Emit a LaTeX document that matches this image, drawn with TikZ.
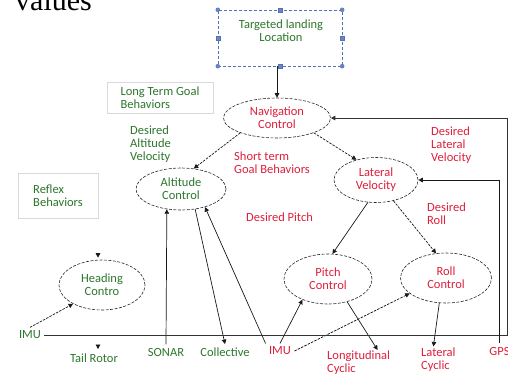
\documentclass[tikz,border=0pt]{standalone}
\usepackage{fontspec}
\setmainfont{Carlito}
\newfontfamily\valsfont{Liberation Serif}
\usetikzlibrary{positioning,arrows.meta,shapes.geometric,calc}
\definecolor{txtred}{RGB}{222,30,58}
\definecolor{txtgreen}{RGB}{44,118,44}
\definecolor{selblue}{RGB}{84,112,182}
\tikzset{
  oval/.style={ellipse,draw=black!85,dash pattern=on 3pt off 1.5pt,line width=0.6pt,inner sep=0pt,align=center},
  redtxt/.style={text=txtred},
  greentxt/.style={text=txtgreen},
  lbl/.style={align=left,inner sep=1pt},
  infobox/.style={draw=black!15,thin,align=left,inner sep=0pt,text=txtgreen},
  selbox/.style={draw=selblue,densely dashed,thin,inner sep=0pt},
  sqhandle/.style={rectangle,fill=selblue!85,draw=selblue,inner sep=0pt,minimum size=4pt},
  rdhandle/.style={circle,fill=selblue!85,draw=selblue,inner sep=0pt,minimum size=4pt},
  arr/.style={-{Triangle[length=4.5pt,width=4.5pt]},line width=0.7pt,black!90},
  darr/.style={arr,dash pattern=on 2.5pt off 1.2pt},
}
\begin{document}
\begin{tikzpicture}[x=1pt,y=-1pt,font=\fontsize{12.5}{13}\selectfont]
  \useasboundingbox (0,0) rectangle (508,373);
  \node[font=\valsfont\fontsize{30}{30}\selectfont,anchor=base west,inner sep=0pt] (values) at (15,10) {values};

  % goal box with selection handles
  \node[selbox,minimum width=124pt,minimum height=56pt] (target) at (280,38) {};
  \foreach \a in {north,west,east,south}
    \node[sqhandle] at (target.\a) {};
  \foreach \a in {north west,north east,south west,south east}
    \node[rdhandle] at (target.\a) {};
  \node[greentxt,align=center] (targettxt) at (281,31) {Targeted landing\\Location};

  % control loops
  \node[oval,redtxt,minimum width=107pt,minimum height=40pt] (nav) at (277,118) {Navigation\\Control};
  \node[oval,greentxt,minimum width=90pt,minimum height=42pt] (alt) at (181,189) {Altitude\\Control};
  \node[oval,redtxt,minimum width=84pt,minimum height=45pt] (lat) at (376,180) {Lateral\\Velocity};
  \node[oval,greentxt,minimum width=86pt,minimum height=50pt] (heading) at (102,285) {Heading\\Contro};
  \node[oval,redtxt,minimum width=88pt,minimum height=50pt] (pitch) at (328,279) {Pitch\\Control};
  \node[oval,redtxt,minimum width=91pt,minimum height=50pt] (roll) at (446,278) {Roll\\Control};

  % behaviour boxes and labels
  \node[infobox,minimum width=106pt,minimum height=31pt] (longterm) at (160,97.5) {Long Term Goal\\Behaviors};
  \node[infobox,minimum width=80pt,minimum height=45pt] (reflex) at (58,195.5) {Reflex\\Behaviors};
  \node[lbl,greentxt,anchor=west] (altvel) at (129,144.5) {Desired\\Altitude\\Velocity};
  \node[lbl,redtxt,anchor=west] (shortterm) at (233,163) {Short term\\Goal Behaviors};
  \node[lbl,redtxt,anchor=west] (latvel) at (430,145) {Desired\\Lateral\\Velocity};
  \node[lbl,redtxt,anchor=west] (despitch) at (245,217) {Desired Pitch};
  \node[lbl,redtxt,anchor=west] (desroll) at (426,213.5) {Desired\\Roll};

  % sensors and actuators
  \node[greentxt] (imuL) at (30,335) {IMU};
  \node[greentxt] (tail) at (94,358) {Tail Rotor};
  \node[greentxt] (sonar) at (166,352) {SONAR};
  \node[greentxt] (collective) at (225,352) {Collective};
  \node[redtxt] (imuR) at (280,351) {IMU};
  \node[lbl,redtxt,anchor=west] (longcyc) at (326,363) {Longitudinal\\Cyclic};
  \node[lbl,redtxt,anchor=west] (latcyc) at (420,359.5) {Lateral\\Cyclic};
  \node[redtxt] (gps) at (499.5,351) {GPS};
  \coordinate (navret) at (507,118);

  \draw[arr] (target.south -| nav.north) -- (nav.north);
  \draw[darr] (nav.202) -- (alt.58);
  \draw[darr] (nav.-22) -- (lat.134);
  \draw[arr] (lat.250) -- (pitch.80);
  \draw[darr] (lat.-50) -- (roll.112);
  \draw[arr] (sonar.north) -- (alt.235);
  \draw[arr] (alt.305) -- (collective.north);
  \draw[arr] (imuR.north west) -- (alt.-37);
  \draw[arr] (imuR.north) -- (pitch.219);
  \draw[darr] (imuR.east) -- (roll.203);
  \draw[arr] (pitch.-50) -- ($(longcyc.north)+(19,0)$);
  \draw[arr] (roll.255) -- ($(latcyc.north)+(-5,0)$);
  \draw[darr] (imuL.north) -- (heading.213);
  \draw[arr,black!80,line width=0.9pt] (imuL.east) -| (navret) -- (nav.east);
  \draw[arr] (gps.north) |- (lat.east);
  \draw[arr] ($(heading.north)+(-4,-6)$) -- ($(heading.north)+(-4,-2)$);
  \draw[arr] ($(tail.north)+(4,-5)$) -- ($(tail.north)+(4,-1)$);
\end{tikzpicture}
\end{document}
